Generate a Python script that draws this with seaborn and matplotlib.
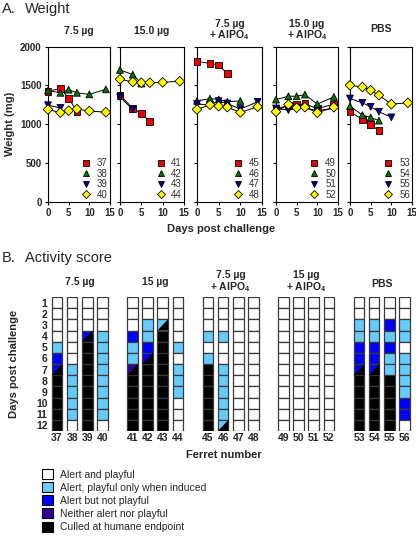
import numpy as np
import pandas as pd
import matplotlib
matplotlib.use("Agg")
import matplotlib.pyplot as plt
import seaborn as sns
from matplotlib.patches import Patch

sns.set_theme(style="ticks")
plt.rcParams['font.family'] = ['Liberation Sans', 'DejaVu Sans']
plt.rcParams['mathtext.fontset'] = 'custom'
plt.rcParams['mathtext.rm'] = 'Liberation Sans'
plt.rcParams['mathtext.bf'] = 'Liberation Sans:bold'

# ---------------- data ----------------
group_titles_top = ["7.5 µg", "15.0 µg", "7.5 µg\n+ AlPO$_\\mathbf{4}$", "15.0 µg\n+ AlPO$_\\mathbf{4}$", "PBS"]
group_titles_bot = ["7.5 µg", "15 µg", "7.5 µg\n+ AlPO$_\\mathbf{4}$", "15 µg\n+ AlPO$_\\mathbf{4}$", "PBS"]
ferrets = [[37, 38, 39, 40], [41, 42, 43, 44], [45, 46, 47, 48], [49, 50, 51, 52], [53, 54, 55, 56]]

# weight (mg) by ferret: days and values
weight_days = {
    37: [0, 3, 5, 7], 38: [0, 3, 5, 7, 10, 14], 39: [0, 3], 40: [0, 3, 5, 7, 10, 14],
    41: [0, 3, 5, 7], 42: [0, 3, 5], 43: [0, 3], 44: [0, 3, 5, 7, 10, 14],
    45: [0, 3, 5, 7], 46: [0, 3, 5, 7, 10], 47: [0, 3, 5, 7, 10, 14], 48: [0, 3, 5, 7, 10, 14],
    49: [0, 3, 5, 7, 10, 14], 50: [0, 3, 5, 7, 10, 14], 51: [0, 3, 5, 7, 10, 14], 52: [0, 3, 5, 7, 10, 14],
    53: [0, 3, 5, 7], 54: [0, 3, 5, 7], 55: [0, 3, 5, 7, 10], 56: [0, 3, 5, 7, 10, 14],
}
weight_mg = {
    37: [1425, 1460, 1335, 1165],
    38: [1435, 1405, 1445, 1405, 1385, 1450],
    39: [1245, 1210],
    40: [1190, 1150, 1175, 1195, 1170, 1155],
    41: [1375, 1205, 1140, 1030],
    42: [1700, 1640, 1525],
    43: [1350, 1190],
    44: [1580, 1545, 1535, 1535, 1540, 1555],
    45: [1810, 1785, 1765, 1650],
    46: [1300, 1330, 1320, 1290, 1300],
    47: [1260, 1250, 1297, 1267, 1195, 1289],
    48: [1190, 1250, 1233, 1220, 1152, 1225],
    49: [1200, 1240, 1250, 1263, 1200, 1259],
    50: [1318, 1361, 1361, 1382, 1259, 1352],
    51: [1203, 1182, 1215, 1210, 1175, 1203],
    52: [1161, 1255, 1212, 1220, 1148, 1220],
    53: [1161, 1063, 999, 914],
    54: [1233, 1118, 1088, 1046],
    55: [1331, 1276, 1225, 1161, 1088],
    56: [1502, 1480, 1438, 1374, 1259, 1276],
}

# activity score per ferret, days 1..12
# W alert&playful, L playful only when induced, B alert not playful, P neither, X culled; "a/X" = split cell
activity = {
    37: ["W", "W", "W", "W", "L", "B", "B/X", "X", "X", "X", "X", "X"],
    38: ["W", "W", "W", "W", "W", "W", "L", "L", "L", "L", "L", "W"],
    39: ["W", "W", "W", "B/X", "X", "X", "X", "X", "X", "X", "X", "X"],
    40: ["W", "W", "W", "L", "L", "L", "L", "L", "L", "L", "L", "W"],
    41: ["W", "W", "W", "B", "L", "L", "P/X", "X", "X", "X", "X", "X"],
    42: ["W", "W", "L", "L", "B", "B/X", "X", "X", "X", "X", "X", "X"],
    43: ["W", "W", "L/X", "X", "X", "X", "X", "X", "X", "X", "X", "X"],
    44: ["W", "W", "W", "W", "L", "W", "L", "L", "L", "W", "W", "W"],
    45: ["W", "W", "W", "L", "W", "L", "X", "X", "X", "X", "X", "X"],
    46: ["W", "W", "W", "L", "W", "W", "L", "L", "L", "L", "L", "L/X"],
    47: ["W"] * 12, 48: ["W"] * 12,
    49: ["W"] * 12, 50: ["W"] * 12, 51: ["W"] * 12, 52: ["W"] * 12,
    53: ["W", "W", "L", "L", "B", "B", "B/X", "X", "X", "X", "X", "X"],
    54: ["W", "W", "L", "L", "B", "B", "B/X", "X", "X", "X", "X", "X"],
    55: ["W", "W", "B", "L", "B", "L", "L", "X", "X", "X", "X", "X"],
    56: ["W", "W", "L", "L", "W", "L", "L", "L", "L", "B", "B", "W"],
}
state_labels = ["Alert and playful", "Alert, playful only when induced", "Alert but not playful",
                "Neither alert nor playful", "Culled at humane endpoint"]
state_codes = ["W", "L", "B", "P", "X"]
state_colors = {"W": "#FFFFFF", "L": "#66CCFF", "B": "#0000FF", "P": "#330099", "X": "#000000"}

marker_colors = ["#EE0000", "#007700", "#000099", "#FFFF00"]
marker_shapes = ["s", "^", "v", "D"]

# ---------------- figure ----------------
W, H = 416, 541
fig = plt.figure(figsize=(W / 100, H / 100), dpi=100)


def px_axes(l, t, r, b):
    return fig.add_axes([l / W, 1 - b / H, (r - l) / W, (b - t) / H])


lefts = [48, 120, 197, 276, 350]
rights = [110, 184, 262, 338, 412]
top_title_y = [31, 31, 30.5, 30.5, 29]     # pixel centres of the group titles
bot_title_y = [282, 282, 282, 282, 284]
bold = dict(fontweight="bold")

for g in range(5):
    ax = px_axes(lefts[g], 46.7, rights[g], 201.7)
    rows = []
    for f in ferrets[g]:
        for d, w in zip(weight_days[f], weight_mg[f]):
            rows.append(dict(ferret=str(f), day=d, weight=w))
    df = pd.DataFrame(rows)
    order = [str(f) for f in ferrets[g]]
    sns.lineplot(data=df, x="day", y="weight", units="ferret", estimator=None,
                 color="black", lw=0.7, ax=ax, zorder=2)
    sns.scatterplot(data=df, x="day", y="weight", hue="ferret", style="ferret",
                    hue_order=order, style_order=order,
                    palette=dict(zip(order, marker_colors)),
                    markers=dict(zip(order, marker_shapes)),
                    s=24, edgecolor="black", linewidth=0.6, ax=ax, zorder=3, clip_on=False)
    ax.set_xlim(0, 15)
    ax.set_ylim(0, 2000)
    ax.set_xticks([0, 5, 10, 15])
    ax.set_yticks([0, 500, 1000, 1500, 2000])
    ax.set_xticklabels(["0", "5", "10", "15"], fontsize=7, **bold)
    if g == 0:
        ax.set_yticklabels(["0", "500", "1000", "1500", "2000"], fontsize=7, **bold)
        ax.set_ylabel("Weight (mg)", fontsize=8, labelpad=4, **bold)
    else:
        ax.set_yticklabels([])
        ax.set_ylabel("")
    ax.set_xlabel("")
    ax.tick_params(length=2.5, width=0.8, pad=2, color="black")
    for s in ax.spines.values():
        s.set_visible(True)
        s.set_linewidth(0.8)
        s.set_color("black")
    leg = ax.legend(loc="lower right", frameon=False, fontsize=7, handletextpad=0.1,
                    labelspacing=0.05, borderaxespad=0.1, borderpad=0.1, markerscale=0.9)
    for t in leg.get_texts():
        t.set_color("#333333")
    fig.text((lefts[g] + rights[g]) / 2 / W, 1 - top_title_y[g] / H, group_titles_top[g],
             ha="center", va="center", fontsize=7.5, linespacing=0.95, **bold)

fig.text(2 / W, 1 - 9 / H, "A.", fontsize=10.5, va="center", ha="left")
fig.text(25 / W, 1 - 9 / H, "Weight", fontsize=10.5, va="center", ha="left")
fig.text(221 / W, 1 - 229 / H, "Days post challenge", fontsize=8, va="center", ha="center", **bold)
fig.text(2 / W, 1 - 258 / H, "B.", fontsize=10.5, va="center", ha="left")
fig.text(25 / W, 1 - 258 / H, "Activity score", fontsize=10.5, va="center", ha="left")

# ---------------- activity grid ----------------
axb = px_axes(49.5, 297, 411.9, 431)
cell_w = 0.7
xpos, xlab = [], []
for g in range(5):
    for j, f in enumerate(ferrets[g]):
        x = g * 5 + j
        xpos.append(x)
        xlab.append(str(f))
        for r, code in enumerate(activity[f], start=1):
            if "/" in code:
                first, second = code.split("/")
            else:
                first, second = code, None
            axb.bar(x, 1, bottom=r - 0.5, width=cell_w, color=state_colors[first],
                    edgecolor="#3a3a3a", linewidth=0.9, zorder=2)
            if second is not None:
                xl, xr = x - cell_w / 2, x + cell_w / 2
                axb.fill([xl, xr, xr], [r + 0.5, r - 0.5, r + 0.5],
                         color=state_colors[second], lw=0, zorder=3)
    cx = g * 5 + 1.5
    axb.text(cx, 0.5 - (297 - bot_title_y[g]) / 11.17, group_titles_bot[g],
             ha="center", va="center", fontsize=7.5, linespacing=0.95, **bold)

axb.set_xlim(-0.5, 23.5)
axb.set_ylim(12.5, 0.5)
axb.set_xticks(xpos)
axb.set_xticklabels(xlab, fontsize=7.5, **bold)
axb.set_yticks(range(1, 13))
axb.set_yticklabels([str(i) for i in range(1, 13)], fontsize=7.5, **bold)
axb.tick_params(length=0, pad=1.5)
for s in axb.spines.values():
    s.set_visible(False)
axb.set_ylabel("Days post challenge", fontsize=8, labelpad=12, **bold)
fig.text(224 / W, 1 - 455 / H, "Ferret number", fontsize=8, va="center", ha="center", **bold)

handles = [Patch(facecolor=state_colors[c], edgecolor="black", linewidth=0.8) for c in state_codes]
fig.legend(handles, state_labels, loc="upper left", bbox_to_anchor=(42 / W, 1 - 469 / H),
           frameon=False, fontsize=7.5, handlelength=1.1, handleheight=1.1,
           handletextpad=0.6, labelspacing=0.25, borderpad=0, borderaxespad=0)

fig.savefig("out.png", dpi=100)
